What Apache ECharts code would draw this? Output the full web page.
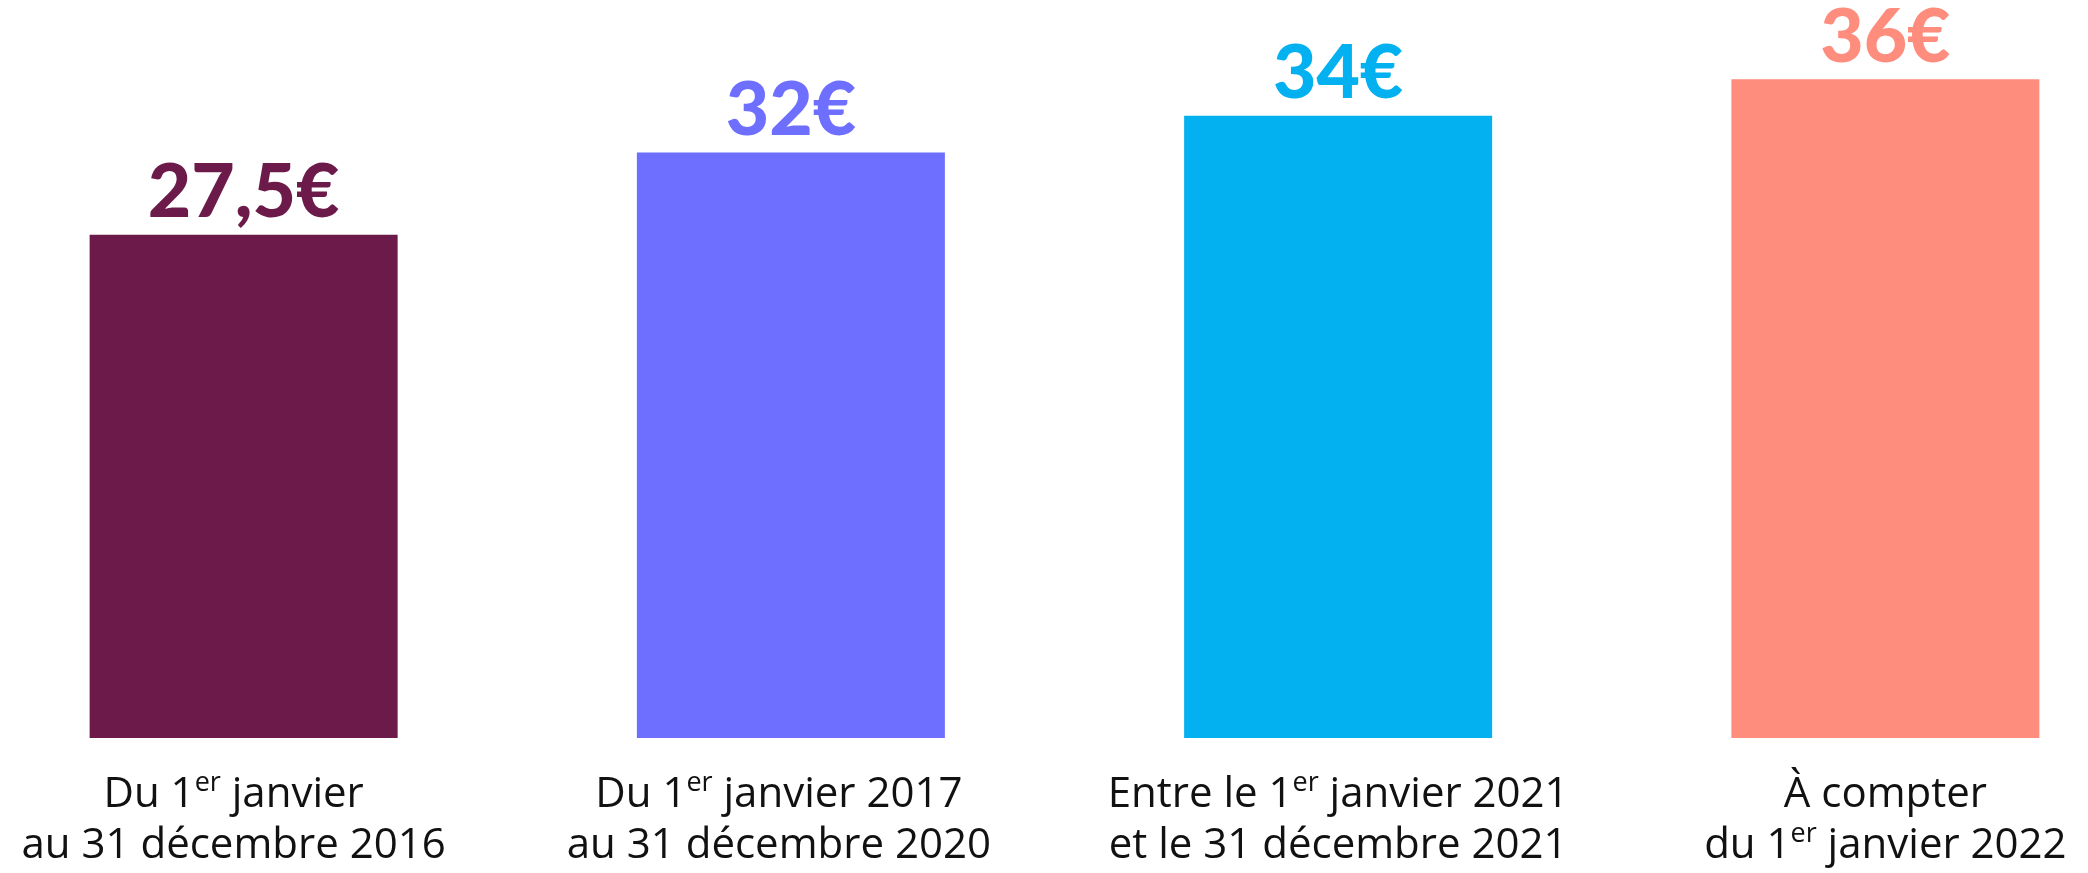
<!DOCTYPE html>
<html>
<head>
<meta charset="utf-8">
<style>
  html, body { margin: 0; padding: 0; background: #ffffff; }
  #chart { width: 2088px; height: 873px; }
</style>
<script src="https://cdn.jsdelivr.net/npm/echarts@6/dist/echarts.min.js"></script>
</head>
<body>
<div id="chart"></div>
<script>
// Data
const categoriesLine1 = ['Du 1{s|er} janvier', 'Du 1{s|er} janvier 2017', 'Entre le 1{s|er} janvier 2021', 'À compter'];
const categoriesLine2 = ['au 31 décembre 2016', 'au 31 décembre 2020', 'et le 31 décembre 2021', 'du 1{s|er} janvier 2022'];
const values = [27.5, 32, 34, 36];
const valueLabels = ['27,5€', '32€', '34€', '36€'];
const barColors = ['#6B1A4A', '#6E6EFF', '#04B1F0', '#FF8D7E'];
const labelShift = [-10, -12, 0, 0];

const chart = echarts.init(document.getElementById('chart'), null, { renderer: 'canvas' });

const xData = categoriesLine1.map((l1, i) => {
  const s = labelShift[i];
  return {
    value: '{n|' + l1.replace(/\{s\|er\}/g, '}{s|er}{n|') + '}\n{n|' + categoriesLine2[i].replace(/\{s\|er\}/g, '}{s|er}{n|') + '}',
    textStyle: { padding: s < 0 ? [0, -2 * s, 0, 0] : [0, 0, 0, 2 * s] }
  };
});

chart.setOption({
  animation: false,
  backgroundColor: '#ffffff',
  grid: { left: -30, right: -71, top: 6, bottom: 135, containLabel: false, outerBoundsMode: 'none' },
  xAxis: {
    type: 'category',
    data: xData,
    axisLine: { show: false },
    axisTick: { show: false },
    axisLabel: {
      interval: 0,
      margin: 32,
      color: '#111111',
      align: 'center',
      rich: {
        n: { fontFamily: 'Open Sans', fontSize: 42, lineHeight: 51, color: '#111111' },
        s: { fontFamily: 'Open Sans', fontSize: 27, lineHeight: 42, verticalAlign: 'top', color: '#111111' }
      }
    }
  },
  yAxis: {
    type: 'value',
    min: 0,
    max: 40,
    show: false,
    splitLine: { show: false }
  },
  series: [{
    type: 'bar',
    barWidth: 308,
    data: values.map((v, i) => ({
      value: v,
      itemStyle: { color: barColors[i] },
      label: { color: barColors[i] }
    })),
    label: {
      show: true,
      position: 'top',
      distance: 4,
      fontFamily: 'Lato',
      fontWeight: 900,
      fontSize: 75,
      lineHeight: 75,
      formatter: p => valueLabels[p.dataIndex]
    }
  }]
});
</script>
</body>
</html>
